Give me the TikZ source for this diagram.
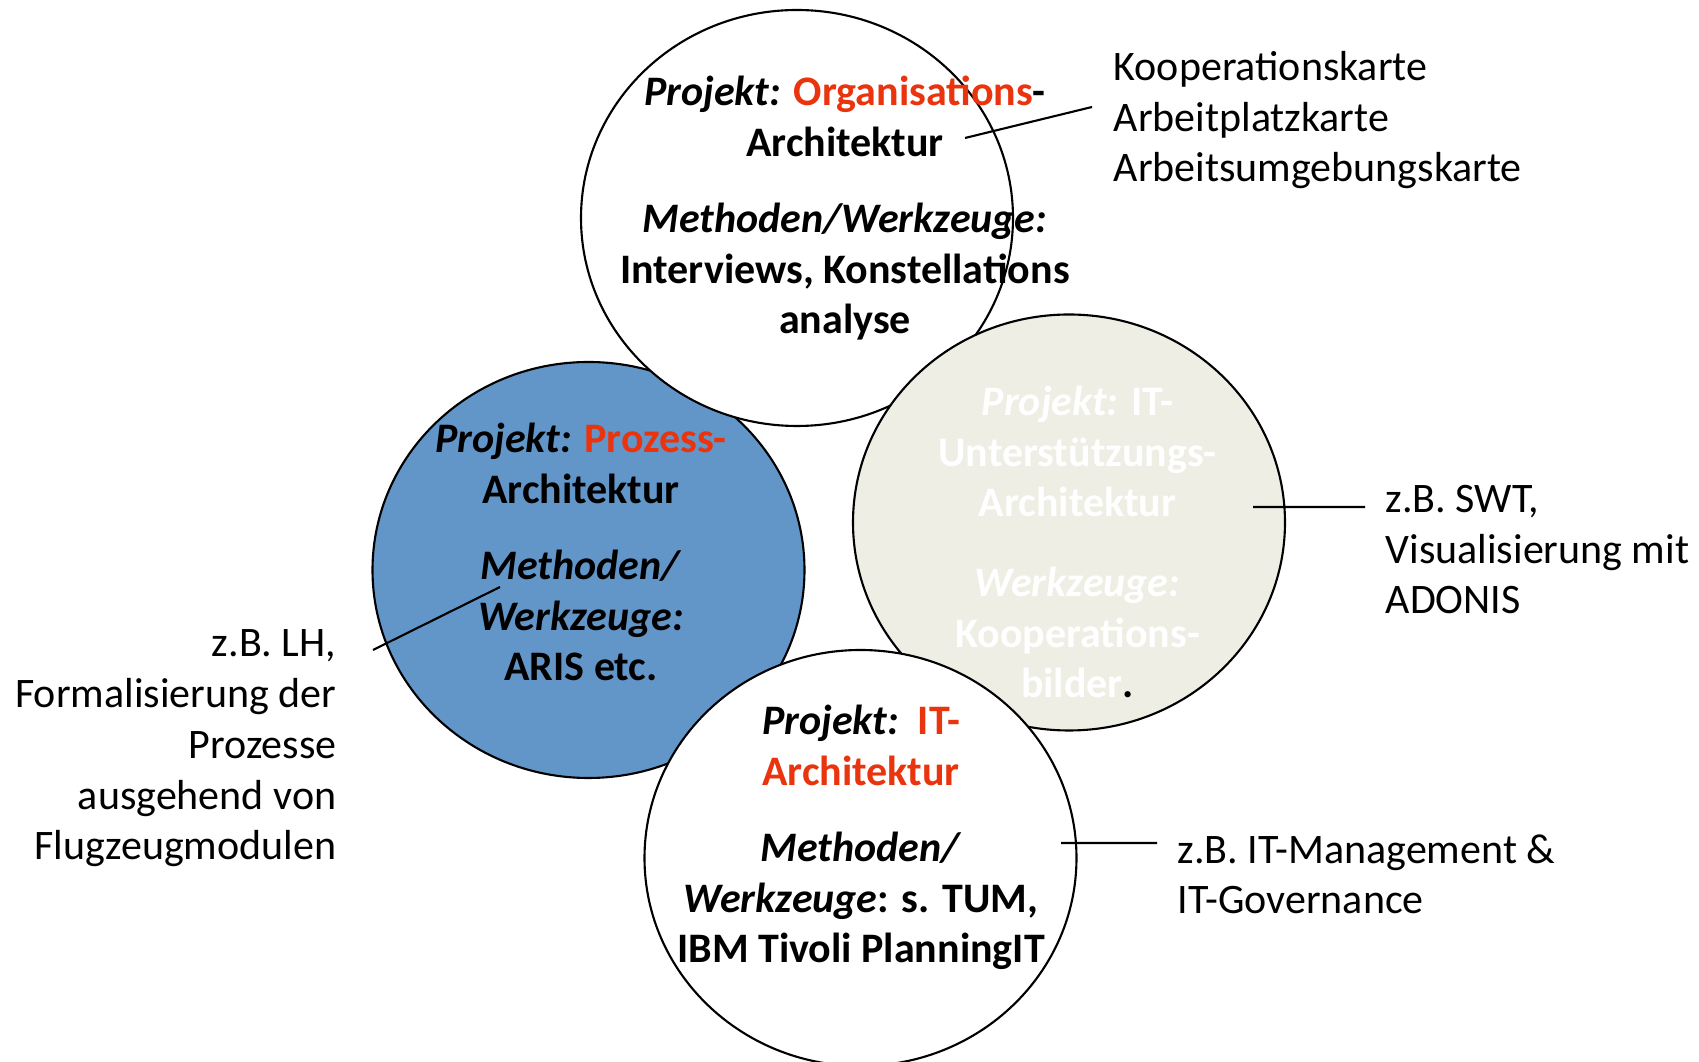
\documentclass[tikz,border=0pt]{standalone}
\usepackage{fontspec}
\setmainfont{Carlito}
\usepackage{tikz}
\definecolor{archred}{RGB}{233,52,14}
\definecolor{prozessblue}{RGB}{98,150,201}
\definecolor{supportgray}{RGB}{238,238,229}
\tikzset{
  circletext/.style={align=center, inner sep=0pt, anchor=base, font=\bfseries\fontsize{11.95}{14.5}\selectfont},
  notetext/.style={inner sep=0pt, font=\fontsize{11.95}{14.5}\selectfont},
  pinline/.style={line width=0.6pt}
}

\begin{document}
\begin{tikzpicture}
\useasboundingbox (0,0) rectangle (16.99,10.62);

\filldraw[fill=prozessblue, draw=black, line width=0.6pt] (5.885,4.92) ellipse (2.16 and 2.08);
\filldraw[fill=white, draw=black, line width=0.6pt] (7.97,8.44) ellipse (2.16 and 2.08);
\filldraw[fill=supportgray, draw=black, line width=0.6pt] (10.69,5.395) ellipse (2.16 and 2.08);
\filldraw[fill=white, draw=black, line width=0.6pt] (8.605,2.04) ellipse (2.16 and 2.08);

% base = last line of each text
\node[circletext] (orgtext) at (8.45,7.28) {\textit{Projekt:} \textcolor{archred}{Organisations}-\\Architektur\\[7pt]\textit{Methoden/Werkzeuge:}\\Interviews, Konstellations\\analyse};
\node[circletext] (prozesstext) at (5.81,3.81) {\textit{Projekt:} \textcolor{archred}{Prozess-}\\Architektur\\[7pt]\textit{Methoden/}\\\textit{Werkzeuge:}\\ARIS etc.};
\node[circletext, text=white] (supporttext) at (10.775,3.64) {\textit{Projekt:} IT-\\Unterstützungs-\\Architektur\\[8pt]\textit{Werkzeuge:}\\Kooperations-\\bilder\textcolor{black}{.}};
\node[circletext] (itarchtext) at (8.61,0.99) {\textit{Projekt:}\ \ \textcolor{archred}{IT-}\\\textcolor{archred}{Architektur}\\[7pt]\textit{Methoden/}\\\textit{Werkzeuge}: s. TUM,\\IBM Tivoli PlanningIT};

\node[notetext, anchor=base west, align=left] (orgnote) at (11.13,8.80) {Kooperationskarte\\Arbeitplatzkarte\\Arbeitsumgebungskarte};
\node[notetext, anchor=base east, align=right] (prozessnote) at (3.37,2.02) {z.B. LH,\\Formalisierung der\\Prozesse\\ausgehend von\\Flugzeugmodulen};
\node[notetext, anchor=base west, align=left] (supportnote) at (13.85,4.48) {z.B. SWT,\\Visualisierung mit\\ADONIS};
\node[notetext, anchor=base west, align=left] (itarchnote) at (11.77,1.48) {z.B. IT-Management \&\\IT-Governance};

\coordinate (orgpin) at (9.65,9.24);
\coordinate (prozesspin) at (5.00,4.75);
\coordinate (supportpin) at (12.53,5.55);
\coordinate (itarchpin) at (10.61,2.19);
\draw[pinline] (orgpin) -- ([shift={(-0.21,0.75)}]orgnote.base west);
\draw[pinline] (prozesspin) -- ([shift={(0.36,2.10)}]prozessnote.base east);
\draw[pinline] (supportpin) -- ([shift={(-0.2,1.07)}]supportnote.base west);
\draw[pinline] (itarchpin) -- ([shift={(-0.2,0.71)}]itarchnote.base west);

\end{tikzpicture}
\end{document}
